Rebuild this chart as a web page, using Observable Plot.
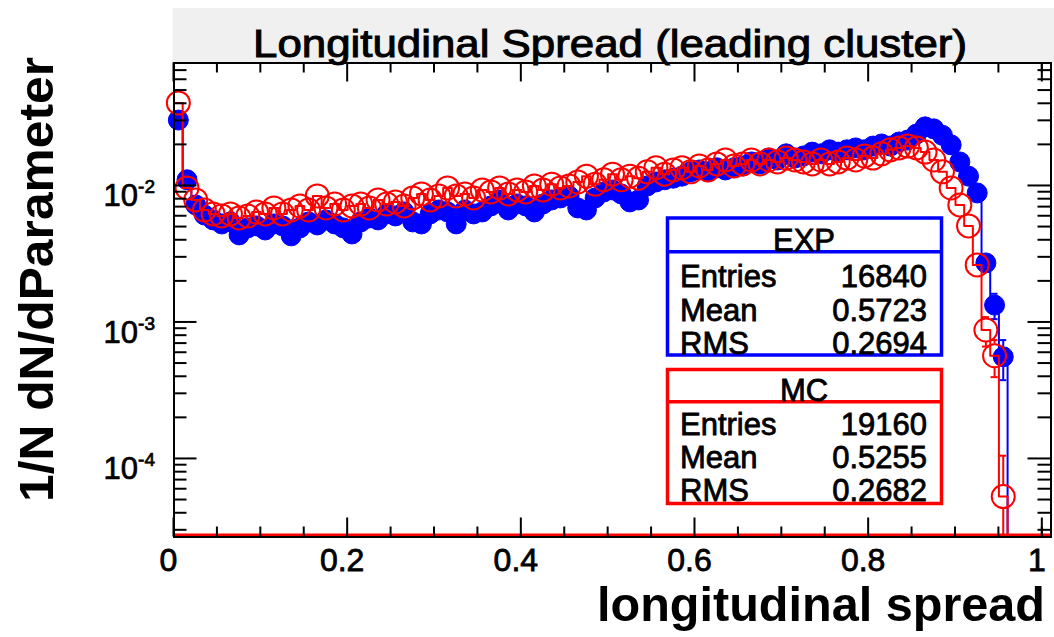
<!DOCTYPE html>
<html><head><meta charset="utf-8">
<script src="https://cdn.jsdelivr.net/npm/d3@7"></script>
<script src="https://cdn.jsdelivr.net/npm/@observablehq/plot@0.6"></script>
<style>
html,body{margin:0;padding:0;background:#fff;}
#chart{position:relative;width:1054px;height:637px;overflow:hidden;}
</style></head><body><div id="chart"></div>
<script>
// ---------- data ----------
const binCenters = [
 0.005,0.015,0.025,0.035,0.045,0.055,0.065,0.075,0.085,0.095,
 0.105,0.115,0.125,0.135,0.145,0.155,0.165,0.175,0.185,0.195,
 0.205,0.215,0.225,0.235,0.245,0.255,0.265,0.275,0.285,0.295,
 0.305,0.315,0.325,0.335,0.345,0.355,0.365,0.375,0.385,0.395,
 0.405,0.415,0.425,0.435,0.445,0.455,0.465,0.475,0.485,0.495,
 0.505,0.515,0.525,0.535,0.545,0.555,0.565,0.575,0.585,0.595,
 0.605,0.615,0.625,0.635,0.645,0.655,0.665,0.675,0.685,0.695,
 0.705,0.715,0.725,0.735,0.745,0.755,0.765,0.775,0.785,0.795,
 0.805,0.815,0.825,0.835,0.845,0.855,0.865,0.875,0.885,0.895,
 0.905,0.915,0.925,0.935,0.945,0.955,0.965,0.975,0.985,0.995,1.005];

const expValues = [
 0.0304,0.0111,0.00726,0.00613,0.00564,0.00527,0.00545,0.00438,0.00493,0.00510,
 0.00476,0.00527,0.00510,0.00431,0.00493,0.00545,0.00518,0.00564,0.00527,0.00493,
 0.00445,0.00545,0.00583,0.00564,0.00624,0.00603,0.00645,0.00545,0.00527,0.00624,
 0.00667,0.00645,0.00527,0.00667,0.00624,0.00645,0.00714,0.00790,0.00667,0.00738,
 0.00714,0.00645,0.00738,0.00790,0.00817,0.00845,0.00690,0.00667,0.00817,0.00904,
 0.00935,0.00874,0.00764,0.00790,0.0100,0.0107,0.0111,0.0114,0.0118,0.0127,
 0.0131,0.0127,0.0136,0.0131,0.0136,0.0140,0.0150,0.0145,0.0160,0.0155,
 0.0172,0.0160,0.0166,0.0177,0.0172,0.0184,0.0177,0.0184,0.0190,0.0184,
 0.0196,0.0203,0.0196,0.0210,0.0217,0.0240,0.0271,0.0262,0.0235,0.0200,
 0.0150,0.0118,0.00889,0.00273,0.00134,0.00056,0,0,0,0,0];

const mcValues = [
 0.0406,0.00967,0.00790,0.00667,0.00624,0.00603,0.00624,0.00583,0.00603,0.00645,
 0.00624,0.00690,0.00624,0.00667,0.00714,0.00667,0.00845,0.00690,0.00738,0.00667,
 0.00714,0.00738,0.00690,0.00790,0.00738,0.00764,0.00714,0.00817,0.00874,0.00790,
 0.00845,0.00967,0.00845,0.00874,0.00817,0.00935,0.00904,0.00967,0.00874,0.00935,
 0.00904,0.0100,0.00935,0.0103,0.00967,0.0100,0.0107,0.0118,0.0103,0.0111,
 0.0122,0.0111,0.0118,0.0114,0.0127,0.0136,0.0122,0.0131,0.0136,0.0127,
 0.0140,0.0131,0.0145,0.0155,0.0140,0.0145,0.0155,0.0145,0.0155,0.0150,
 0.0160,0.0155,0.0150,0.0145,0.0155,0.0145,0.0150,0.0160,0.0155,0.0166,
 0.0160,0.0172,0.0184,0.0190,0.0196,0.0190,0.0177,0.0155,0.0127,0.00967,
 0.00726,0.00510,0.00264,0.00088,0.00057,0.000053,0,0,0,0,0];

const statNames = ["Entries","Mean","RMS"];
const expStats = ["16840","0.5723","0.2694"];
const mcStats  = ["19160","0.5255","0.2682"];
const expEntries = 16840, mcEntries = 19160;

const xMajorTicks = [0,0.2,0.4,0.6,0.8,1];
const xTickLabels = ["0","0.2","0.4","0.6","0.8","1"];
const xMinorTicks = [0.05,0.1,0.15,0.25,0.3,0.35,0.45,0.5,0.55,0.65,0.7,0.75,0.85,0.9,0.95,1.0];
const yMajorTicks = [1e-4,1e-3,1e-2];
const yTickExponents = ["-4","-3","-2"];
const yMinorTicks = [3e-5,4e-5,5e-5,6e-5,7e-5,8e-5,9e-5,
  2e-4,3e-4,4e-4,5e-4,6e-4,7e-4,8e-4,9e-4,
  2e-3,3e-3,4e-3,5e-3,6e-3,7e-3,8e-3,9e-3,
  2e-2,3e-2,4e-2,5e-2,6e-2,7e-2];

const titleText = "Longitudinal Spread (leading cluster)";
const xTitle = "longitudinal spread";
const yTitle = "1/N dN/dParameter";

// ---------- build ----------
const W = 1054, H = 637, mL = 173.5, mR = 3.5, mT = 62.5, mB = 100.5;
const yMin = 2.68e-5, yMax = 0.0796;
const pxPerDecade = (H - mT - mB) / Math.log10(yMax / yMin);
const half = (binCenters[1] - binCenters[0]) / 2;
const clampY = v => Math.max(v, yMin);
function series(vals, N) {
  return binCenters.map((c, i) => ({x: c, v: vals[i], lo: c - half, hi: c + half, err: Math.sqrt(vals[i] / N)}));
}
const exp = series(expValues, expEntries);
const mc = series(mcValues, mcEntries);
const nz = s => s.filter(d => d.v > 0);
const steps = s => s.flatMap(d => [{x: d.lo, y: clampY(d.v)}, {x: d.hi, y: clampY(d.v)}]);

// error bars are drawn only outside the marker, as ROOT does
function errSegments(s, r) {
  const f = Math.pow(10, r / pxPerDecade);
  const out = [];
  for (const d of nz(s)) {
    const up = d.v + d.err, dn = clampY(d.v - d.err);
    if (up > d.v * f) out.push({x: d.x, a: d.v * f, b: up, cap: up});
    if (dn < d.v / f) out.push({x: d.x, a: dn, b: d.v / f, cap: d.v - d.err > yMin ? dn : null});
  }
  return out;
}

const BLUE = "#0000ff", RED = "#ff0000";
function errMarks(s, color, r) {
  const seg = errSegments(s, r);
  return [
    Plot.ruleX(seg, {x: "x", y1: "a", y2: "b", stroke: color, strokeWidth: 2}),
    Plot.ruleY(seg.filter(d => d.cap != null), {y: "cap", x1: d => d.x - 0.004, x2: d => d.x + 0.004, stroke: color, strokeWidth: 2})
  ];
}

const plot = Plot.plot({
  width: W, height: H,
  marginLeft: mL, marginRight: mR, marginTop: mT, marginBottom: mB,
  x: {domain: [0, 1.01], axis: null},
  y: {type: "log", domain: [yMin, yMax], axis: null},
  style: {background: "transparent", overflow: "visible"},
  marks: [
    Plot.line(steps(exp), {x: "x", y: "y", stroke: BLUE, strokeWidth: 2}),
    ...errMarks(exp, BLUE, 10),
    Plot.dot(nz(exp), {x: "x", y: "v", r: 10, fill: BLUE, stroke: BLUE, strokeWidth: 1}),
    Plot.line(steps(mc), {x: "x", y: "y", stroke: RED, strokeWidth: 2}),
    ...errMarks(mc, RED, 11.5),
    Plot.dot(nz(mc), {x: "x", y: "v", r: 11.5, fill: "none", stroke: RED, strokeWidth: 2}),
    Plot.ruleY([yMin], {y: d => d, stroke: RED, strokeWidth: 3, dy: -2}),
    Plot.frame({stroke: "#000", strokeWidth: 2})
  ]
});
document.getElementById("chart").appendChild(plot);

// ---------- axes, titles, stat boxes ----------
const svg = d3.select(plot);
const sx = plot.scale("x"), sy = plot.scale("y");
const [xl, xr] = sx.range;
const [yb, yt] = sy.range;
const FONT = "'Liberation Sans', Arial, Helvetica, sans-serif";
const NARROW = "'Liberation Sans Narrow', 'Liberation Sans', Arial, sans-serif";

// title background
svg.insert("rect", ":first-child")
  .attr("x", xl - 1).attr("y", 8).attr("width", W - xl + 1).attr("height", yt - 8)
  .attr("fill", "#f0f0f0");
svg.insert("rect", ":first-child").attr("x", 0).attr("y", 0).attr("width", W).attr("height", H).attr("fill", "#fff");

const g = svg.append("g").attr("stroke", "#000").attr("stroke-width", 2);
function tick(x1, y1, x2, y2) { g.append("line").attr("x1", x1).attr("y1", y1).attr("x2", x2).attr("y2", y2); }
for (const t of xMajorTicks) { const p = sx.apply(t); tick(p, yb, p, yb - 19); tick(p, yt, p, yt + 19); }
for (const t of xMinorTicks) { const p = sx.apply(t); tick(p, yb, p, yb - 10); tick(p, yt, p, yt + 10); }
for (const t of yMajorTicks) { const p = sy.apply(t); tick(xl, p, xl + 23, p); tick(xr, p, xr - 23, p); }
for (const t of yMinorTicks) { const p = sy.apply(t); tick(xl, p, xl + 13, p); tick(xr, p, xr - 13, p); }

const tg = svg.append("g").attr("fill", "#000").attr("font-family", FONT).attr("text-anchor", "start");
xMajorTicks.forEach((t, i) => {
  tg.append("text").attr("x", sx.apply(t) - 5).attr("y", 571)
    .attr("text-anchor", "middle").attr("font-family", NARROW).attr("font-size", 32)
    .attr("stroke", "#000").attr("stroke-width", 0.8)
    .text(xTickLabels[i]);
});
yMajorTicks.forEach((t, i) => {
  const p = sy.apply(t);
  const tx = tg.append("text").attr("x", 155).attr("y", p + 21).attr("text-anchor", "end")
    .attr("stroke", "#000").attr("stroke-width", 0.7);
  tx.append("tspan").attr("font-size", 31).text("10");
  tx.append("tspan").attr("font-size", 19).attr("dy", -13).text(yTickExponents[i]);
});

// title
tg.append("text").attr("x", 610).attr("y", 57).attr("text-anchor", "middle")
  .attr("font-size", 39).attr("textLength", 714).attr("lengthAdjust", "spacingAndGlyphs")
  .attr("stroke", "#000").attr("stroke-width", 1)
  .text(titleText);
// x title
tg.append("text").attr("x", 1045).attr("y", 621).attr("text-anchor", "end")
  .attr("font-size", 48).attr("font-weight", "bold")
  .attr("textLength", 448).attr("lengthAdjust", "spacingAndGlyphs")
  .text(xTitle);
// y title
tg.append("text").attr("transform", "translate(53,57) rotate(-90)").attr("text-anchor", "end")
  .attr("font-size", 49).attr("font-weight", "bold")
  .attr("textLength", 445).attr("lengthAdjust", "spacingAndGlyphs")
  .text(yTitle);

// stat boxes
function statBox(top, bottom, sep, color, name, values, base) {
  const b = svg.append("g");
  b.append("rect").attr("x", 667.5).attr("y", top).attr("width", 274).attr("height", bottom - top)
    .attr("fill", "#fff").attr("stroke", color).attr("stroke-width", 3.5);
  b.append("line").attr("x1", 667.5).attr("x2", 941.5).attr("y1", sep).attr("y2", sep)
    .attr("stroke", color).attr("stroke-width", 3.5);
  const t = b.append("g").attr("font-family", FONT).attr("font-size", 31).attr("fill", "#000")
    .attr("stroke", "#000").attr("stroke-width", 0.8);
  t.append("text").attr("x", 804).attr("y", sep - 1).attr("text-anchor", "middle").text(name);
  statNames.forEach((n, i) => {
    t.append("text").attr("x", 680).attr("y", base + i * 33.2).attr("text-anchor", "start").text(n);
    t.append("text").attr("x", 927).attr("y", base + i * 33.2).attr("text-anchor", "end").text(values[i]);
  });
}
statBox(218, 355, 251.7, BLUE, "EXP", expStats, 287.3);
statBox(369.5, 503.5, 401.7, RED, "MC", mcStats, 435);
</script>
</body></html>
